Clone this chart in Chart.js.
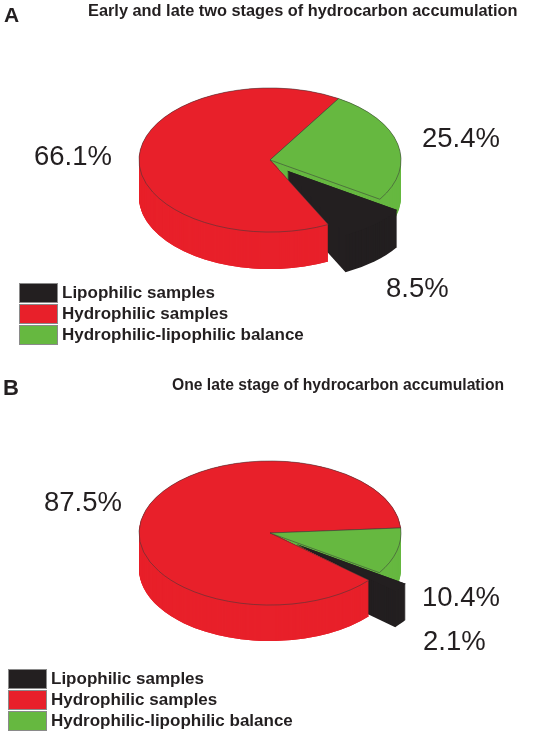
<!DOCTYPE html>
<html>
<head>
<meta charset="utf-8">
<title>Hydrocarbon accumulation samples</title>
<script src="https://cdn.jsdelivr.net/npm/chart.js@4"></script>
<style>
  html, body { margin: 0; padding: 0; background: #fff; }
  body { width: 540px; height: 733px; position: relative; overflow: hidden;
         font-family: "Liberation Sans", Arial, sans-serif; color: #231f20; }
  canvas { position: absolute; left: 0; }
  #chartA { top: 0; }
  #chartB { top: 366px; }
  .txt { position: absolute; white-space: nowrap; line-height: 1; }
  .panel { font-weight: bold; }
  .title { font-weight: bold; }
  .pct { font-size: 27.5px; }
  .swatch { position: absolute; width: 37px; height: 18px; border: 1px solid #8a8a8a; box-sizing: content-box; }
  .leg { font-size: 17px; font-weight: bold; }
</style>
</head>
<body>
<canvas id="chartA" width="540" height="320"></canvas>
<canvas id="chartB" width="540" height="334"></canvas>

<script>
const categories = ["Lipophilic samples", "Hydrophilic samples", "Hydrophilic-lipophilic balance"];
const colors = ["#231f20", "#e8202a", "#66b840"];

const titleA = "Early and late two stages of hydrocarbon accumulation";
const valuesA = [8.5, 66.1, 25.4];

const titleB = "One late stage of hydrocarbon accumulation";
const valuesB = [2.1, 87.5, 10.4];

const RADIUS = 131;
const SQUASH = 0.55;

// Fake 3D: squash the pie and stack copies of each slice downwards for the wall
function drawWall(ctx, arc, depth) {
  const saved = arc.options;
  arc.options = { ...saved, borderWidth: 0 };
  for (let d = depth; d >= 0; d--) {
    ctx.save();
    ctx.translate(0, d / SQUASH);
    arc.draw(ctx);
    ctx.restore();
  }
  arc.options = saved;
}

const pie3d = {
  id: "pie3d",
  afterDatasetsUpdate(chart, args, opts) {
    // pull the black slice out along its middle angle
    const black = chart.getDatasetMeta(0).data[0];
    const mid = (black.startAngle + black.endAngle) / 2;
    black.x += Math.cos(mid) * opts.pull;
    black.y += Math.sin(mid) * opts.pull;
  },
  beforeDatasetsDraw(chart, args, opts) {
    const ctx = chart.ctx;
    const [black, red, green] = chart.getDatasetMeta(0).data;
    const cx = red.x;
    const cy = red.y;

    ctx.save();
    ctx.translate(cx, cy);
    ctx.scale(1, SQUASH);
    ctx.translate(-cx, -cy);

    drawWall(ctx, red, opts.depth);
    drawWall(ctx, green, opts.depth);
    drawWall(ctx, black, opts.depth);

    // front of the red wall sits in front of the black slice
    const cornerX = cx + RADIUS * Math.cos(red.startAngle);
    const cornerY = cy + RADIUS * Math.sin(red.startAngle);
    ctx.save();
    ctx.beginPath();
    ctx.moveTo(cx, cy);
    ctx.lineTo(cornerX, cornerY);
    ctx.lineTo(cornerX, cy + 2 * RADIUS);
    ctx.lineTo(cx - 2 * RADIUS, cy + 2 * RADIUS);
    ctx.lineTo(cx - 2 * RADIUS, cy);
    ctx.closePath();
    ctx.clip();
    drawWall(ctx, red, opts.depth);
    ctx.restore();
  },
  afterDatasetsDraw(chart) {
    chart.ctx.restore();
  }
};

function makePie(id, values, rotation, pull, depth) {
  return new Chart(document.getElementById(id), {
    type: "pie",
    data: {
      labels: categories,
      datasets: [{
        data: values,
        backgroundColor: colors,
        borderColor: "#3a3a3a",
        borderWidth: [0, 0.7, 0.7],
        clip: false
      }]
    },
    options: {
      responsive: false,
      animation: false,
      events: [],
      radius: RADIUS,
      rotation: rotation,
      plugins: {
        legend: { display: false },
        tooltip: { enabled: false },
        pie3d: { pull: pull, depth: depth }
      }
    },
    plugins: [pie3d]
  });
}

makePie("chartA", valuesA, 123, 26, 37);
makePie("chartB", valuesB, 123.4, 33, 36);

// --- TEXTS ---
function addText(cls, text, x, y, size) {
  const el = document.createElement("div");
  el.className = "txt " + cls;
  el.textContent = text;
  el.style.left = x + "px";
  el.style.top = y + "px";
  if (size) el.style.fontSize = size + "px";
  document.body.appendChild(el);
}

function addLegend(x, y) {
  categories.forEach((name, i) => {
    const box = document.createElement("div");
    box.className = "swatch";
    box.style.left = x + "px";
    box.style.top = (y + i * 21) + "px";
    box.style.background = colors[i];
    document.body.appendChild(box);
    addText("leg", name, x + 43, y + i * 21 + 1);
  });
}

addText("panel", "A", 4, 4, 21);
addText("title", titleA, 88, 2, 16.35);
addText("pct", valuesA[1] + "%", 34, 142);
addText("pct", valuesA[2] + "%", 422, 124);
addText("pct", valuesA[0] + "%", 386, 274);
addLegend(19, 283);

addText("panel", "B", 3, 377, 22);
addText("title", titleB, 172, 377, 15.7);
addText("pct", valuesB[1] + "%", 44, 488);
addText("pct", valuesB[2] + "%", 422, 583);
addText("pct", valuesB[0] + "%", 423, 627);
addLegend(8, 669);
</script>
</body>
</html>
